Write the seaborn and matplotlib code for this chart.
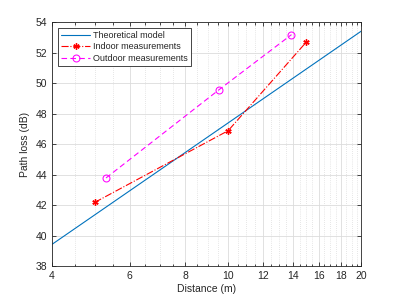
import numpy as np
import pandas as pd
import seaborn as sns
import matplotlib
matplotlib.use("Agg")
import matplotlib.pyplot as plt
from matplotlib.ticker import FixedLocator, FixedFormatter, NullFormatter

# values
theory_d = [4, 20]
theory_pl = [39.44, 53.44]

indoor_d = [5.0, 10.0, 15.0]
indoor_pl = [42.2, 46.9, 52.7]

outdoor_d = [5.3, 9.55, 13.9]
outdoor_pl = [43.8, 49.6, 53.2]

x_ticks = [4, 6, 8, 10, 12, 14, 16, 18, 20]
y_ticks = [38, 40, 42, 44, 46, 48, 50, 52, 54]

sns.set_style("ticks")
plt.rcParams["font.family"] = ["Liberation Sans", "DejaVu Sans"]
plt.rcParams["font.size"] = 7.5

fig = plt.figure(figsize=(3.99, 2.99), dpi=100)
ax = fig.add_axes([0.130, 0.109, 0.776, 0.816])

df_theory = pd.DataFrame({"d": theory_d, "pl": theory_pl})
df_in = pd.DataFrame({"d": indoor_d, "pl": indoor_pl})
df_out = pd.DataFrame({"d": outdoor_d, "pl": outdoor_pl})

sns.lineplot(data=df_theory, x="d", y="pl", ax=ax, color="#0072BD", lw=0.8,
             label="Theoretical model")
sns.lineplot(data=df_in, x="d", y="pl", ax=ax, color="red", lw=0.8,
             linestyle="-.", marker=(6, 2, 0), markersize=4.5, mew=1.0,
             markeredgecolor="red", label="Indoor measurements")
sns.lineplot(data=df_out, x="d", y="pl", ax=ax, color="magenta", lw=0.8,
             linestyle=(0, (5, 3)), marker="o", markersize=5,
             markerfacecolor="none", markeredgecolor="magenta",
             label="Outdoor measurements")

ax.set_xscale("log")
ax.set_xlim(4, 20)
ax.set_ylim(38, 54)

ax.xaxis.set_major_locator(FixedLocator(x_ticks))
ax.xaxis.set_major_formatter(FixedFormatter([str(t) for t in x_ticks]))
minor = [v for v in np.arange(4, 20.01, 0.5) if v not in x_ticks]
ax.xaxis.set_minor_locator(FixedLocator(minor))
ax.xaxis.set_minor_formatter(NullFormatter())
ax.set_yticks(y_ticks)

ax.grid(True, which="major", color="#dcdcdc", lw=0.6, ls="-")
ax.grid(True, which="minor", axis="x", color="#cfcfcf", lw=0.5, ls=(0, (1, 2)))
ax.set_axisbelow(True)

ax.tick_params(which="both", direction="in", top=True, right=True,
               colors="#262626", labelsize=7.5, width=0.6)
ax.tick_params(which="major", length=3)
ax.tick_params(which="minor", length=1.8)
for s in ax.spines.values():
    s.set_color("#262626")
    s.set_linewidth(0.6)

ax.set_xlabel("Distance (m)", fontsize=7.5, color="#262626", labelpad=2)
ax.set_ylabel("Path loss (dB)", fontsize=7.5, color="#262626", labelpad=4)

leg = ax.legend(loc="upper left", bbox_to_anchor=(0.012, 0.99), fontsize=6.5,
                frameon=True, fancybox=False, edgecolor="#262626",
                borderpad=0.35, labelspacing=0.3, handlelength=3.2,
                handletextpad=0.3, borderaxespad=0.3)
leg.get_frame().set_linewidth(0.6)
leg.get_frame().set_alpha(1)

fig.savefig("out.png", dpi=100)
